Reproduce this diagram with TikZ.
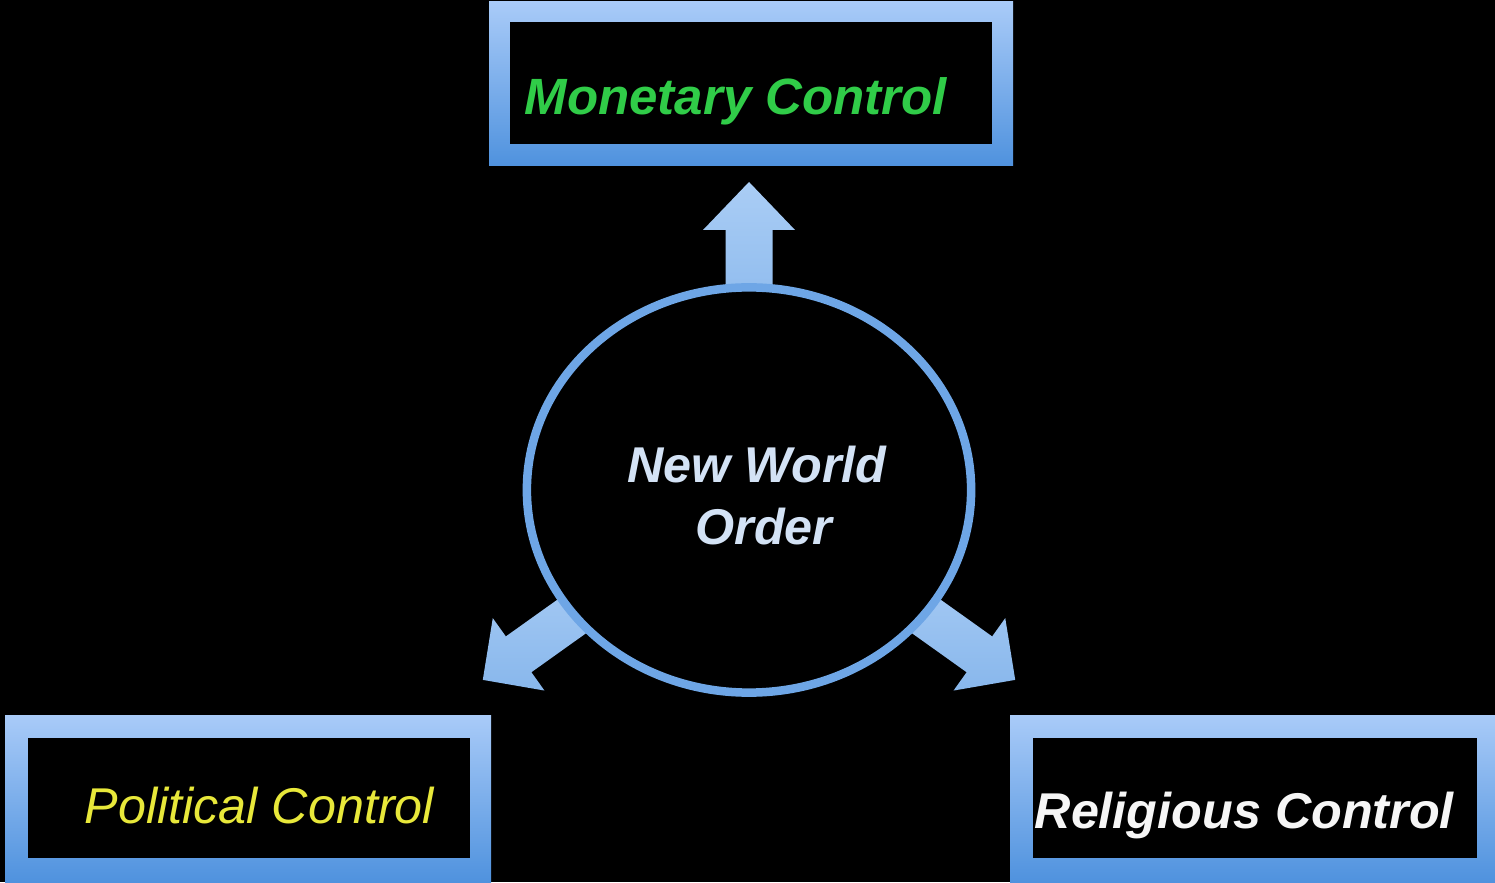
\documentclass[tikz,border=0pt]{standalone}
\usepackage{fontspec}
\setmainfont{Liberation Sans}
\usetikzlibrary{shapes.geometric}
\definecolor{framelight}{HTML}{A9CBF8}
\definecolor{framedark}{HTML}{4F92DE}
\definecolor{ringblue}{HTML}{6EA6E6}
\definecolor{arrowlight}{HTML}{AACDF5}
\definecolor{arrowdark}{HTML}{88B7EC}
\definecolor{mongreen}{HTML}{30CC48}
\definecolor{polyellow}{HTML}{E8E83A}
\definecolor{nwotext}{HTML}{D3E2F5}
\definecolor{relwhite}{HTML}{F6F6F6}
\begin{document}
\begin{tikzpicture}[x=0.01cm,y=0.01cm,
  frame/.style={top color=framelight,bottom color=framedark},
  innerbox/.style={fill=black,inner sep=0pt,draw=none},
  boxtext/.style={font=\fontsize{14.3}{17}\selectfont\itshape,inner sep=0pt,anchor=base west},
  boldtext/.style={boxtext,font=\fontsize{14.3}{17}\selectfont\itshape\bfseries},
  blockarrow/.style={top color=arrowlight,bottom color=arrowdark}]
% background
\fill[black] (0,0) rectangle (1495,882);
\useasboundingbox (0,0) rectangle (1495,882);
\coordinate (c) at (749,392);
% arrows
\begin{scope}[shift={(c)},rotate=90]
  \shade[blockarrow] (150,-23.5) -- (260,-23.5) -- (260,-46) -- (308,0) -- (260,46) -- (260,23.5) -- (150,23.5) -- cycle;
\end{scope}
\begin{scope}[shift={(c)},rotate=215.5]
  \shade[blockarrow] (150,-22) -- (283,-22) -- (283,-44.5) -- (327,0) -- (283,44.5) -- (283,22) -- (150,22) -- cycle;
\end{scope}
\begin{scope}[shift={(c)},rotate=-35.5]
  \shade[blockarrow] (150,-22) -- (283,-22) -- (283,-44.5) -- (327,0) -- (283,44.5) -- (283,22) -- (150,22) -- cycle;
\end{scope}
% circle
\node[ellipse,draw=ringblue,line width=0.085cm,fill=black,minimum width=4.44cm,minimum height=4.05cm,inner sep=0pt] (nwo) at (c) {};
% boxes
\shade[frame] (489,716) rectangle (1013,880);
\node[innerbox,minimum width=4.82cm,minimum height=1.22cm] (mon) at (751,799) {};
\shade[frame] (5,0) rectangle (491,167);
\node[innerbox,minimum width=4.42cm,minimum height=1.20cm] (pol) at (249,84) {};
\shade[frame] (1010,0) rectangle (1495,167);
\node[innerbox,minimum width=4.44cm,minimum height=1.20cm] (rel) at (1255,84) {};
% texts
\node[boldtext,text=mongreen,font=\fontsize{14.5}{17}\selectfont\itshape\bfseries] (montext) at (524,767) {Monetary Control};
\node[boxtext,text=polyellow] (poltext) at (84,59) {Political Control};
\node[boldtext,text=relwhite] (reltext) at (1034,54) {Religious Control};
\node[boldtext,anchor=base,text=nwotext] (nwo1) at (757,399) {New World};
\node[boldtext,anchor=base,text=nwotext] (nwo2) at (764,337) {Order};
\end{tikzpicture}
\end{document}
